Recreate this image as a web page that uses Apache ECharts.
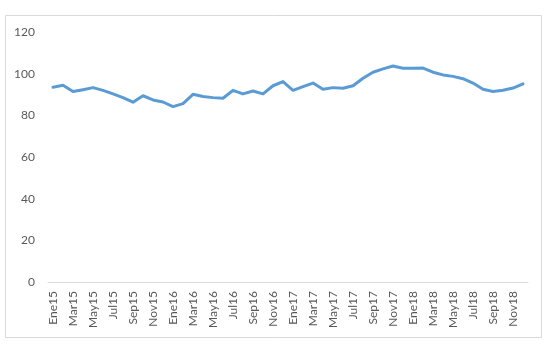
<!DOCTYPE html>
<html>
<head>
<meta charset="utf-8">
<script src="https://cdn.jsdelivr.net/npm/echarts@6/dist/echarts.min.js"></script>
<style>
  html, body { margin: 0; padding: 0; background: #fff; }
  #chart { width: 547px; height: 341px; }
</style>
</head>
<body>
<div id="chart"></div>
<script>
const months = ['Ene', 'Feb', 'Mar', 'Abr', 'May', 'Jun', 'Jul', 'Ago', 'Sep', 'Oct', 'Nov', 'Dic']
const years = ['15', '16', '17', '18']
const categories = []
years.forEach(y => months.forEach(m => categories.push(m + y)))

const values2015 = [93.5, 94.4, 91.4, 92.3, 93.3, 92.0, 90.3, 88.5, 86.3, 89.4, 87.4, 86.4]
const values2016 = [84.2, 85.6, 90.1, 89.0, 88.5, 88.2, 92.0, 90.3, 91.7, 90.3, 94.2, 96.2]
const values2017 = [92.0, 93.8, 95.5, 92.5, 93.3, 93.0, 94.2, 97.8, 100.7, 102.3, 103.7, 102.6]
const values2018 = [102.6, 102.7, 100.7, 99.4, 98.7, 97.6, 95.5, 92.5, 91.4, 92.0, 93.1, 95.1]
const seriesValues = [].concat(values2015, values2016, values2017, values2018)

const yTicks = { min: 0, max: 120, interval: 20 }

const myChart = echarts.init(document.getElementById('chart'))
const option = {
    animation: false,
    textStyle: { fontFamily: 'Lato, "Open Sans", sans-serif' },
    graphic: [{
        type: 'rect',
        shape: { x: 5.5, y: 15.5, width: 536, height: 322 },
        style: { fill: 'none', stroke: '#d9d9d9', lineWidth: 1 },
        silent: true
    }],
    grid: { left: 48, right: 19, top: 32, bottom: 59, containLabel: false },
    xAxis: {
        type: 'category',
        data: categories,
        boundaryGap: true,
        axisLine: { lineStyle: { color: '#d9d9d9', width: 1 } },
        axisTick: { show: false },
        axisLabel: {
            interval: 1,
            rotate: 90,
            margin: 9,
            color: '#595959',
            fontSize: 12
        }
    },
    yAxis: {
        type: 'value',
        min: yTicks.min,
        max: yTicks.max,
        interval: yTicks.interval,
        axisLine: { show: false },
        axisTick: { show: false },
        splitLine: { show: false },
        axisLabel: { color: '#595959', fontSize: 12, margin: 13 }
    },
    series: [{
        type: 'line',
        data: seriesValues,
        showSymbol: false,
        lineStyle: { color: '#5b9bd5', width: 3, cap: 'round', join: 'round' },
        itemStyle: { color: '#5b9bd5' }
    }]
}
myChart.setOption(option)
</script>
</body>
</html>
